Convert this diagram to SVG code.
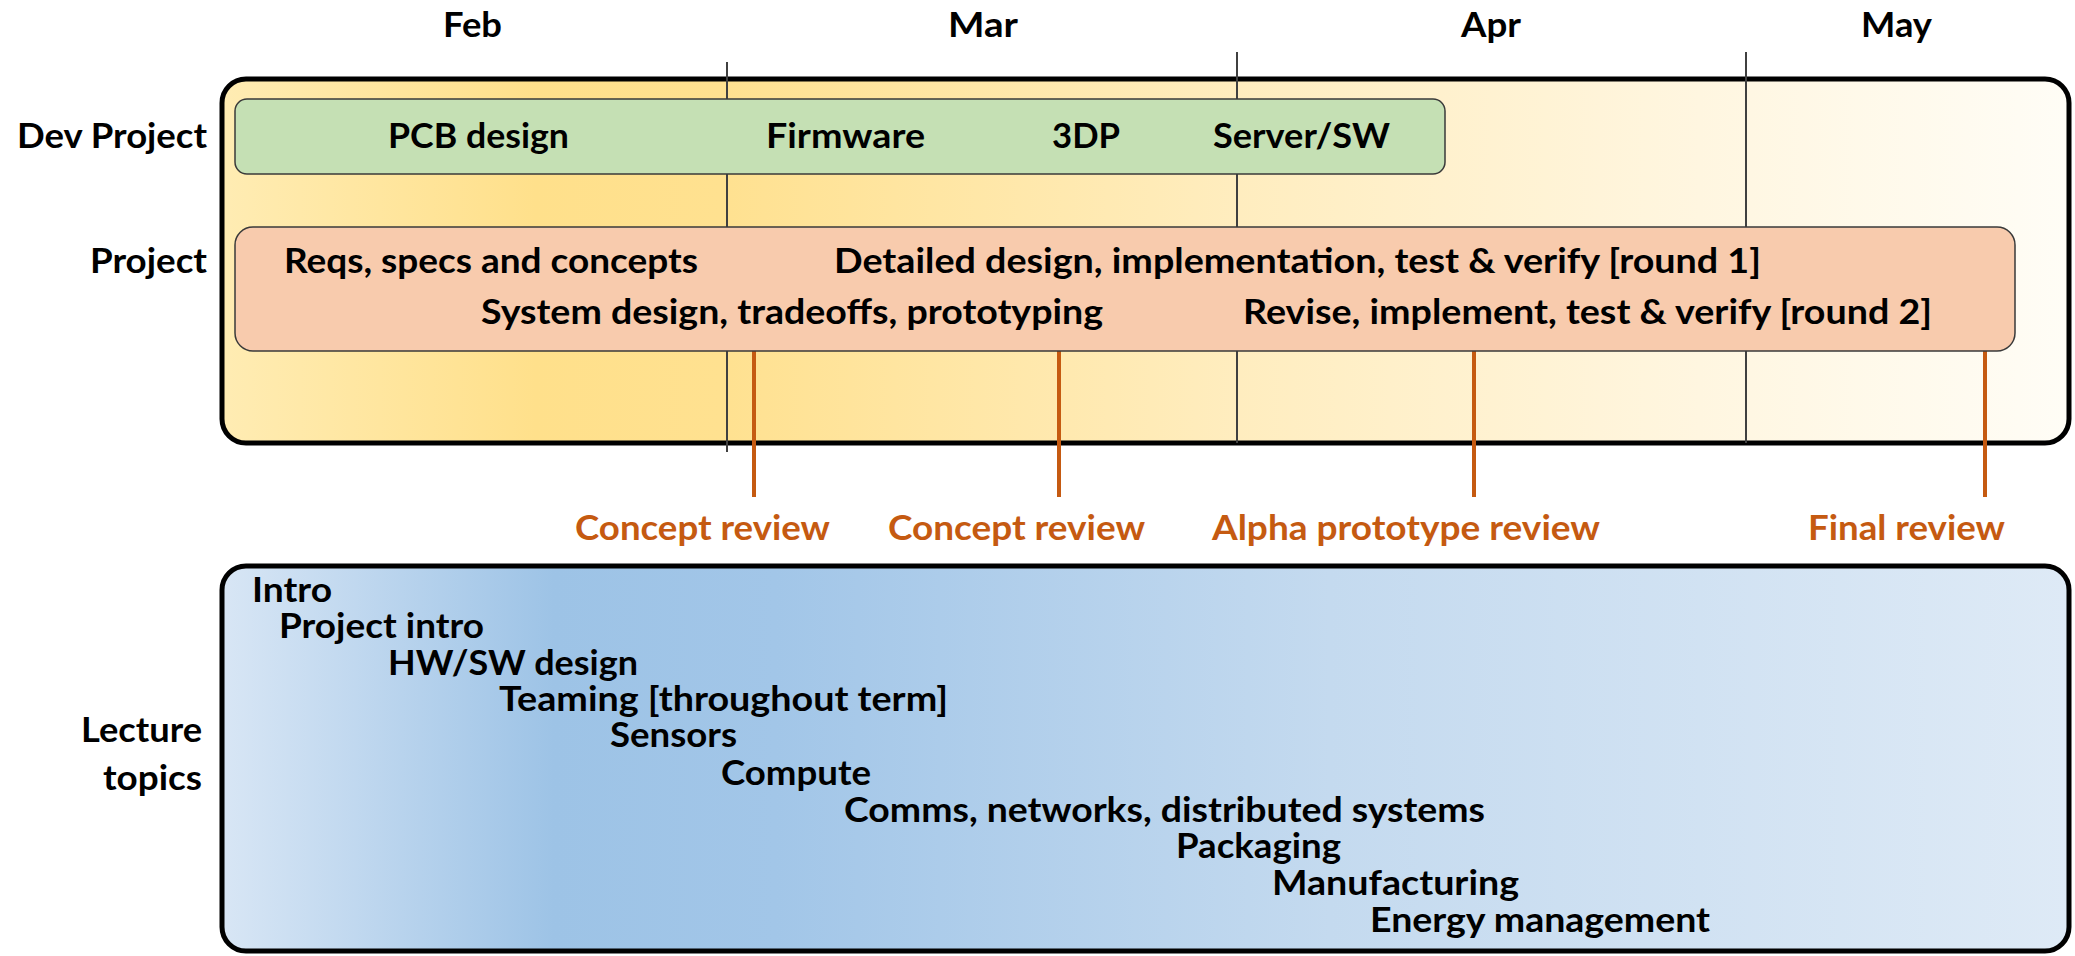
<svg xmlns="http://www.w3.org/2000/svg" width="2075" height="956" viewBox="0 0 2075 956">
  <style>
    text { font-family: Lato, "Open Sans", "Liberation Sans", sans-serif; font-weight: 700; font-size: 34px; fill: #000; }
    .ms { fill: #C55A11; }
    .panel { stroke: #000; stroke-width: 5; }
    .bar { stroke: #3a3a3a; stroke-width: 1.5; }
    .month { stroke: #404040; stroke-width: 2; fill: none; }
    .mile { stroke: #C55A11; stroke-width: 4; fill: none; }
  </style>
  <defs>
    <linearGradient id="gold" gradientUnits="userSpaceOnUse" x1="222" y1="0" x2="2069" y2="0">
      <stop offset="0" stop-color="#FFECB3"/>
      <stop offset="0.17" stop-color="#FFE08B"/>
      <stop offset="0.27" stop-color="#FFE190"/>
      <stop offset="0.55" stop-color="#FFEDBF"/>
      <stop offset="0.8" stop-color="#FFF6E0"/>
      <stop offset="1" stop-color="#FFFDF6"/>
    </linearGradient>
    <linearGradient id="sky" gradientUnits="userSpaceOnUse" x1="222" y1="0" x2="2069" y2="0">
      <stop offset="0" stop-color="#D8E6F5"/>
      <stop offset="0.18" stop-color="#9DC3E6"/>
      <stop offset="0.3" stop-color="#A2C6E8"/>
      <stop offset="0.6" stop-color="#C4DAEF"/>
      <stop offset="1" stop-color="#DEEAF6"/>
    </linearGradient>
  </defs>

  <!-- month headings -->
  <g id="months">
    <text x="443" y="37" textLength="59" lengthAdjust="spacingAndGlyphs">Feb</text>
    <text x="948" y="37" textLength="70" lengthAdjust="spacingAndGlyphs">Mar</text>
    <text x="1461" y="37" textLength="60" lengthAdjust="spacingAndGlyphs">Apr</text>
    <text x="1861" y="37" textLength="71" lengthAdjust="spacingAndGlyphs">May</text>
  </g>

  <!-- schedule panel -->
  <g id="schedule-panel">
    <rect class="panel" x="222" y="79" width="1847" height="364" rx="24" fill="url(#gold)"/>
  </g>

  <!-- month boundaries and review milestones -->
  <g id="connectors">
    <line class="month" x1="727" y1="62" x2="727" y2="452"/>
    <line class="month" x1="1237" y1="52" x2="1237" y2="443"/>
    <line class="month" x1="1746" y1="52" x2="1746" y2="443"/>
    <line class="mile" x1="754" y1="351" x2="754" y2="497"/>
    <line class="mile" x1="1059" y1="351" x2="1059" y2="497"/>
    <line class="mile" x1="1474" y1="351" x2="1474" y2="497"/>
    <line class="mile" x1="1985" y1="351" x2="1985" y2="497"/>
  </g>

  <!-- row labels -->
  <g id="row-labels">
    <text x="17" y="148" textLength="190" lengthAdjust="spacingAndGlyphs">Dev Project</text>
    <text x="90" y="273" textLength="117" lengthAdjust="spacingAndGlyphs">Project</text>
    <text x="81" y="742" textLength="121" lengthAdjust="spacingAndGlyphs">Lecture</text>
    <text x="103" y="790" textLength="99" lengthAdjust="spacingAndGlyphs">topics</text>
  </g>

  <!-- dev project bar -->
  <g id="dev-project">
    <rect class="bar" x="235" y="99" width="1210" height="75" rx="12" fill="#C5E0B4"/>
    <text x="388" y="148" textLength="181" lengthAdjust="spacingAndGlyphs">PCB design</text>
    <text x="766" y="148" textLength="159" lengthAdjust="spacingAndGlyphs">Firmware</text>
    <text x="1052" y="148" textLength="68" lengthAdjust="spacingAndGlyphs">3DP</text>
    <text x="1213" y="148" textLength="177" lengthAdjust="spacingAndGlyphs">Server/SW</text>
  </g>

  <!-- project phases bar -->
  <g id="project">
    <rect class="bar" x="235" y="227" width="1780" height="124" rx="18" fill="#F8CBAD"/>
    <text x="284" y="273" textLength="414" lengthAdjust="spacingAndGlyphs">Reqs, specs and concepts</text>
    <text x="834" y="273" textLength="927" lengthAdjust="spacingAndGlyphs">Detailed design, implementation, test &amp; verify [round 1]</text>
    <text x="481" y="324" textLength="622" lengthAdjust="spacingAndGlyphs">System design, tradeoffs, prototyping</text>
    <text x="1243" y="324" textLength="689" lengthAdjust="spacingAndGlyphs">Revise, implement, test &amp; verify [round 2]</text>
  </g>

  <!-- review milestones -->
  <g id="reviews">
    <text class="ms" x="575" y="540" textLength="255" lengthAdjust="spacingAndGlyphs">Concept review</text>
    <text class="ms" x="888" y="540" textLength="257" lengthAdjust="spacingAndGlyphs">Concept review</text>
    <text class="ms" x="1212" y="540" textLength="388" lengthAdjust="spacingAndGlyphs">Alpha prototype review</text>
    <text class="ms" x="1808" y="540" textLength="197" lengthAdjust="spacingAndGlyphs">Final review</text>
  </g>

  <!-- lecture topics panel -->
  <g id="lecture-topics">
    <rect class="panel" x="222" y="566" width="1847" height="385" rx="24" fill="url(#sky)"/>
    <text x="252" y="602" textLength="80" lengthAdjust="spacingAndGlyphs">Intro</text>
    <text x="279" y="638" textLength="205" lengthAdjust="spacingAndGlyphs">Project intro</text>
    <text x="388" y="675" textLength="250" lengthAdjust="spacingAndGlyphs">HW/SW design</text>
    <text x="499" y="711" textLength="449" lengthAdjust="spacingAndGlyphs">Teaming [throughout term]</text>
    <text x="610" y="747" textLength="127" lengthAdjust="spacingAndGlyphs">Sensors</text>
    <text x="721" y="785" textLength="150" lengthAdjust="spacingAndGlyphs">Compute</text>
    <text x="844" y="822" textLength="641" lengthAdjust="spacingAndGlyphs">Comms, networks, distributed systems</text>
    <text x="1176" y="858" textLength="165" lengthAdjust="spacingAndGlyphs">Packaging</text>
    <text x="1272" y="895" textLength="247" lengthAdjust="spacingAndGlyphs">Manufacturing</text>
    <text x="1370" y="932" textLength="340" lengthAdjust="spacingAndGlyphs">Energy management</text>
  </g>
</svg>
